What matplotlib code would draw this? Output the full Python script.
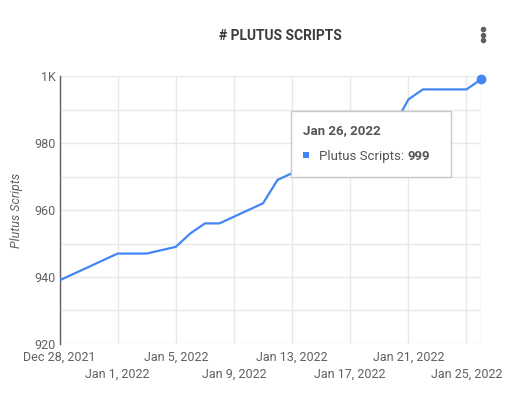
import numpy as np
import matplotlib.pyplot as plt
from matplotlib.lines import Line2D
from matplotlib.ticker import MultipleLocator, FuncFormatter, FixedLocator, FixedFormatter
import matplotlib.dates as mdates

plt.rcParams['font.family'] = ['Roboto', 'DejaVu Sans']

# datos diarios
fechas = np.arange(np.datetime64('2021-12-28'), np.datetime64('2022-01-27'))
scripts = [939, 941, 943, 945, 947, 947, 947, 948, 949, 953,
           956, 956, 958, 960, 962, 969, 971, 972, 974, 976,
           978, 980, 982, 985, 993, 996, 996, 996, 996, 999]
tick_fechas = np.arange(np.datetime64('2021-12-28'), np.datetime64('2022-01-27'), 4)
tick_textos = ['Dec 28, 2021', 'Jan 1, 2022', 'Jan 5, 2022', 'Jan 9, 2022',
               'Jan 13, 2022', 'Jan 17, 2022', 'Jan 21, 2022', 'Jan 25, 2022']

azul = '#4285F4'
gris_texto = '#616161'
gris_grid = '#e8e8e8'

fig = plt.figure(figsize=(5.1, 3.98), dpi=100)
ax = fig.add_axes([0.1167, 0.1357, 0.8265, 0.6733])

x = fechas.astype('datetime64[D]').astype(object)
ax.plot(x, scripts, color=azul, lw=1.6, zorder=3)
ax.plot(x[-1], scripts[-1], 'o', color=azul, ms=6, zorder=4, clip_on=False)

ax.set_xlim(x[0], x[-1])
ax.set_ylim(920, 1000)
ax.yaxis.set_major_locator(MultipleLocator(20))
ax.yaxis.set_minor_locator(MultipleLocator(10))
ax.yaxis.set_major_formatter(FuncFormatter(lambda v, p: '1K' if v >= 1000 else '%d' % v))

# etiquetas escalonadas: fila de arriba = major, fila de abajo = minor
xt = mdates.date2num(tick_fechas.astype('datetime64[D]').astype(object))
ax.xaxis.set_major_locator(FixedLocator(xt[0::2]))
ax.xaxis.set_major_formatter(FixedFormatter(tick_textos[0::2]))
ax.xaxis.set_minor_locator(FixedLocator(xt[1::2]))
ax.xaxis.set_minor_formatter(FixedFormatter(tick_textos[1::2]))
ax.axvline(x[-1], color=gris_grid, lw=1, zorder=0)

ax.grid(True, which='both', color=gris_grid, lw=1, zorder=0)
ax.tick_params(axis='both', which='both', length=0, labelsize=9, colors=gris_texto, pad=3)
ax.tick_params(axis='x', which='major', pad=5)
ax.tick_params(axis='x', which='minor', pad=17)
for lado in ['top', 'right', 'bottom']:
    ax.spines[lado].set_visible(False)
ax.spines['left'].set_color('#5f5f5f')
ax.spines['left'].set_linewidth(1)

ax.set_ylabel('Plutus Scripts', fontsize=9, style='italic', color=gris_texto, labelpad=8)

fig.text(0.550, 0.909, '# PLUTUS SCRIPTS', ha='center', va='center',
         fontsize=10, fontweight='bold', color='#3c3c3c')
# menu de tres puntos
fig.add_artist(Line2D([0.9477] * 3, [0.927, 0.913, 0.899], transform=fig.transFigure,
                      ls='none', marker='o', ms=3, color='#5f5f5f'))

# tooltip
caja = plt.Rectangle((0.570, 0.555), 0.315, 0.165, transform=fig.transFigure,
                     facecolor='white', edgecolor='#c8c8c8', lw=1, zorder=10)
fig.patches.append(caja)
fig.text(0.594, 0.672, 'Jan 26, 2022', fontsize=9.5, fontweight='bold',
         color='#555555', va='center', zorder=11)
fig.patches.append(plt.Rectangle((0.594, 0.602), 0.012, 0.015, transform=fig.transFigure,
                                 facecolor=azul, edgecolor='none', zorder=11))
t = fig.text(0.626, 0.608, 'Plutus Scripts: ', fontsize=9.5, color='#555555',
             va='center', zorder=11)
fig.canvas.draw()
bb = t.get_window_extent().transformed(fig.transFigure.inverted())
fig.text(bb.x1, 0.608, '999', fontsize=9.5, fontweight='bold', color='#555555',
         va='center', zorder=11)

fig.savefig('out.png', dpi=100)
